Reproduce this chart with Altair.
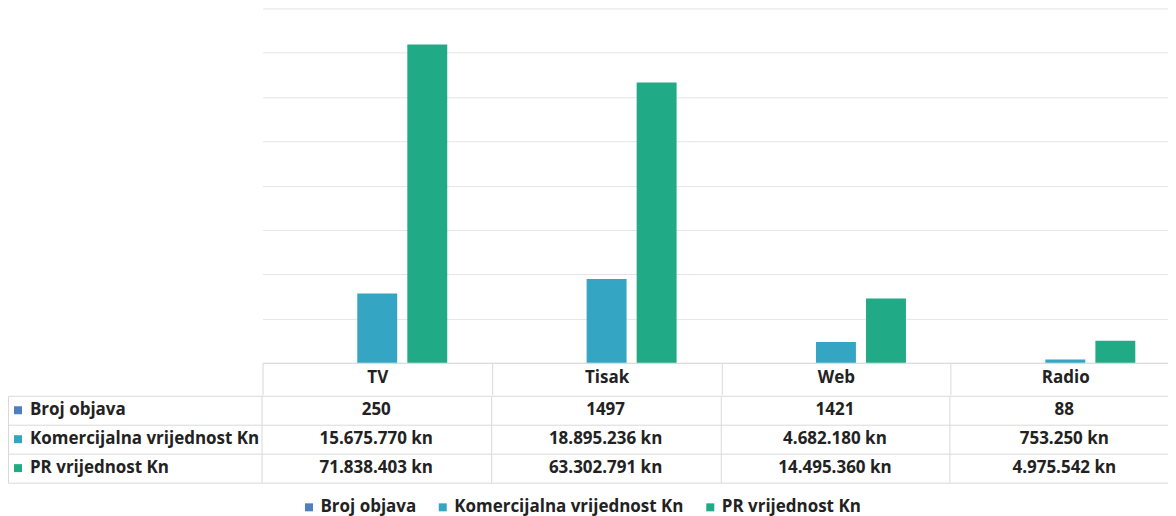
import altair as alt
import pandas as pd

categories = ["TV", "Tisak", "Web", "Radio"]
series = ["Broj objava", "Komercijalna vrijednost Kn", "PR vrijednost Kn"]
broj_objava = [250, 1497, 1421, 88]
komercijalna = [15675770, 18895236, 4682180, 753250]
pr_vrijednost = [71838403, 63302791, 14495360, 4975542]
colors = ["#4F7FC0", "#34A5C3", "#21AA86"]

FONT = "Open Sans"
FS = 17
TXT = "#222222"
LINE = "#d9d9d9"
LABEL_W = 254
PLOT_W = 919


def fmt(v, kn):
    if not kn:
        return str(v)
    return f"{v:,}".replace(",", ".") + " kn"


rows = []
for s, vals, kn in zip(series, [broj_objava, komercijalna, pr_vrijednost], [False, True, True]):
    for c, v in zip(categories, vals):
        rows.append({"category": c, "series": s, "row": s, "value": v, "label": fmt(v, kn)})
df = pd.DataFrame(rows)
lab_df = pd.DataFrame({"row": series, "hex": colors})

xcat = alt.Scale(domain=categories, paddingInner=0, paddingOuter=0)

bars = alt.Chart(df).mark_bar().encode(
    x=alt.X("category:N", sort=categories, scale=xcat,
            axis=alt.Axis(title=None, labelAngle=0, labelFont=FONT, labelFontSize=FS,
                          labelFontWeight="bold", labelColor=TXT, labelPadding=-25,
                          tickBand="extent", tickSize=32, tickColor=LINE,
                          domainColor=LINE, grid=False)),
    xOffset=alt.XOffset("series:N", sort=series,
                        scale=alt.Scale(domain=series, paddingInner=0.202, paddingOuter=0.893)),
    y=alt.Y("value:Q", scale=alt.Scale(domain=[0, 80000000], nice=False),
            axis=alt.Axis(title=None, labels=False, ticks=False, domain=False,
                          values=list(range(0, 80000001, 10000000)), gridColor="#e4e4e4")),
    color=alt.Color("series:N", scale=alt.Scale(domain=series, range=colors),
                    legend=alt.Legend(orient="none", legendX=293, legendY=491,
                                      direction="horizontal", title=None,
                                      symbolType="square", symbolSize=64,
                                      symbolStrokeWidth=0, labelFont=FONT,
                                      labelFontSize=FS, labelFontWeight="bold",
                                      labelColor=TXT, columnPadding=18, labelOffset=3,
                                      labelLimit=400)),
).properties(width=PLOT_W, height=355)

spacer = alt.Chart(lab_df).mark_point(opacity=0, size=1).encode(
    x=alt.value(120), y=alt.value(170)
).properties(width=LABEL_W, height=355)

yrow = alt.Scale(domain=series, paddingInner=0, paddingOuter=0)

squares = alt.Chart(lab_df).mark_square(size=64, opacity=1).encode(
    x=alt.value(10),
    y=alt.Y("row:N", sort=series, scale=yrow,
            axis=alt.Axis(title=None, labels=False, ticks=False, domain=True,
                          domainColor=LINE, grid=True, gridColor=LINE, tickBand="extent")),
    color=alt.Color("hex:N", scale=None),
)
labtext = alt.Chart(lab_df).mark_text(align="left", font=FONT, fontSize=FS,
                                      fontWeight="bold", color=TXT).encode(
    x=alt.value(22),
    y=alt.Y("row:N", sort=series, scale=yrow),
    text="row:N",
)
labels = alt.layer(squares, labtext).properties(width=LABEL_W, height=87)

values = alt.Chart(df).mark_text(font=FONT, fontSize=FS, fontWeight="bold", color=TXT).encode(
    x=alt.X("category:N", sort=categories, scale=xcat,
            axis=alt.Axis(title=None, labels=False, ticks=False, domain=False, grid=True,
                          gridColor=LINE, tickBand="extent")),
    y=alt.Y("row:N", sort=series, scale=yrow,
            axis=alt.Axis(title=None, labels=False, ticks=False, domain=False, grid=True,
                          gridColor=LINE, tickBand="extent")),
    text="label:N",
).properties(width=PLOT_W, height=87)

row1 = alt.hconcat(spacer, bars, spacing=0)
row2 = alt.hconcat(labels, values, spacing=0)
chart = alt.vconcat(row1, row2, spacing=0).configure(
    padding={"left": 0, "top": 0, "right": 1160 - LABEL_W - PLOT_W, "bottom": 0},
    view=alt.ViewConfig(stroke=None),
)

chart.save("out.html", embed_options={"renderer": "svg", "actions": False})
